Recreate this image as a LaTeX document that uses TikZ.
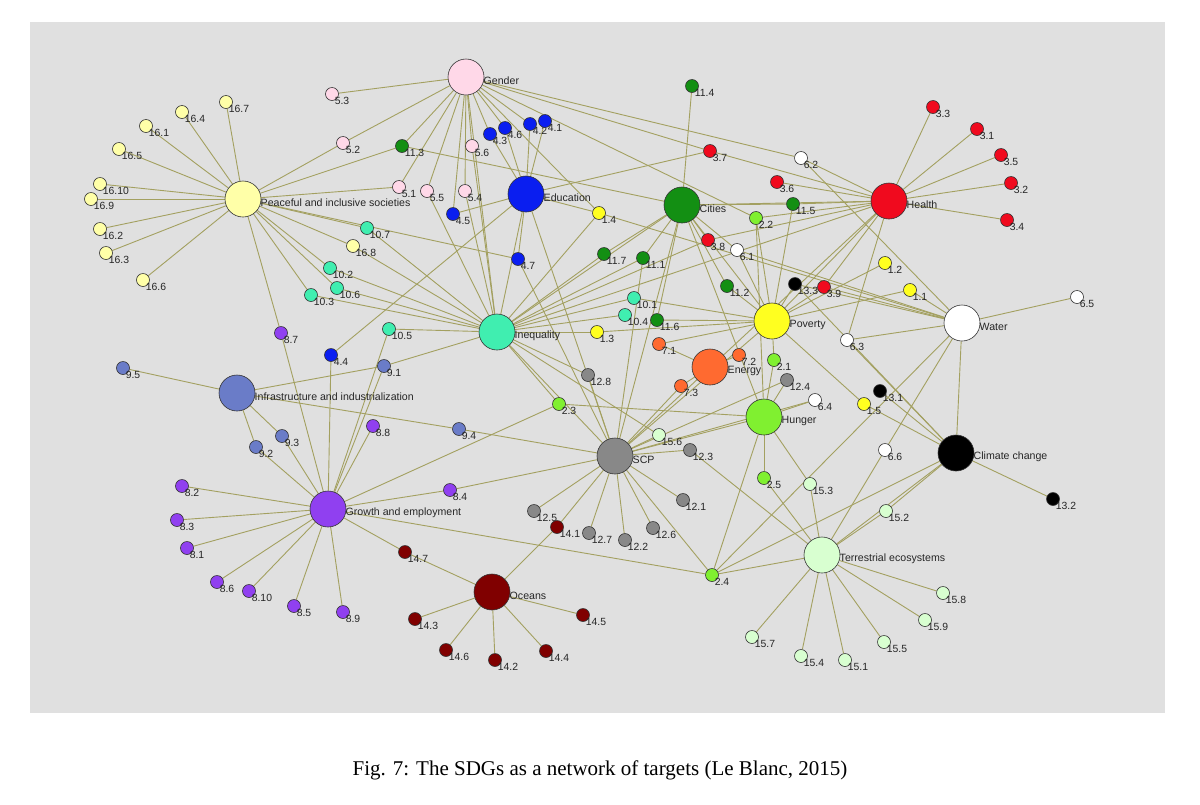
\documentclass[tikz,border=0pt]{standalone}
\usepackage{fontspec}
\setmainfont{Liberation Serif}
\newfontfamily\lblfont{Liberation Sans}
\usetikzlibrary{backgrounds}
\definecolor{bgc}{HTML}{E0E0E0}
\definecolor{edg}{HTML}{A3A060}
\definecolor{cpink}{HTML}{FFD8E8}
\definecolor{cblue}{HTML}{0A1EF0}
\definecolor{cgreen}{HTML}{138F13}
\definecolor{cred}{HTML}{F00A1E}
\definecolor{cteal}{HTML}{40EEB0}
\definecolor{cyel}{HTML}{FFFF20}
\definecolor{cpy}{HTML}{FFFFA8}
\definecolor{corg}{HTML}{FF6A30}
\definecolor{clime}{HTML}{80F030}
\definecolor{cgray}{HTML}{888888}
\definecolor{cslate}{HTML}{6A7CC8}
\definecolor{cpur}{HTML}{9040F0}
\definecolor{cdred}{HTML}{800000}
\definecolor{cpg}{HTML}{D8FFD0}
\tikzset{
 tgt/.style={circle,draw=black!80,line width=0.3pt,minimum size=6.5pt,inner sep=0pt},
 hub/.style={circle,draw=black!80,line width=0.3pt,minimum size=18pt,inner sep=0pt},
 lbl/.style={anchor=north west,inner sep=0pt,xshift=-1.2pt,yshift=1pt,font=\lblfont\fontsize{5.2}{6}\selectfont,text=black!85},
 hlbl/.style={anchor=west,inner sep=0pt,xshift=-0.5pt,yshift=-1.8pt,font=\lblfont\fontsize{5.3}{6}\selectfont,text=black!85},
 link/.style={edg,line width=0.45pt}
}
\newcommand\tg[5]{\node[tgt,fill=#4] (#1) at (#2,#3) {}; \node[lbl] at (#1.south east) {#5};}
\newcommand\hb[5]{\node[hub,fill=#4] (#1) at (#2,#3) {}; \node[hlbl] at (#1.east) {#5};}
\begin{document}
\begin{tikzpicture}[x=0.5pt,y=-0.5pt]
\useasboundingbox (0,0) rectangle (1200,804);
% hubs
\hb{gen}{466}{77}{cpink}{Gender}
\hb{pea}{243}{199}{cpy}{Peaceful and inclusive societies}
\hb{edu}{526}{194}{cblue}{Education}
\hb{cit}{682}{205}{cgreen}{Cities}
\hb{hea}{889}{201}{cred}{Health}
\hb{ine}{497}{332}{cteal}{Inequality}
\hb{pov}{772}{321}{cyel}{Poverty}
\hb{wat}{962}{323}{white}{Water}
\hb{inf}{237}{393}{cslate}{Infrastructure and industrialization}
\hb{ene}{710}{367}{corg}{Energy}
\hb{hun}{764}{417}{clime}{Hunger}
\hb{scp}{615}{456}{cgray}{SCP}
\hb{cli}{956}{453}{black}{Climate change}
\hb{gro}{328}{509}{cpur}{Growth and employment}
\hb{oce}{492}{592}{cdred}{Oceans}
\hb{ter}{822}{555}{cpg}{Terrestrial ecosystems}
% gender
\tg{n5-3}{332}{94}{cpink}{5.3}
\tg{n5-2}{343}{143}{cpink}{5.2}
\tg{n5-1}{399}{187}{cpink}{5.1}
\tg{n5-5}{427}{191}{cpink}{5.5}
\tg{n5-4}{465}{191}{cpink}{5.4}
\tg{n5-6}{472}{146}{cpink}{5.6}
% education
\tg{n4-3}{490}{134}{cblue}{4.3}
\tg{n4-6}{505}{128}{cblue}{4.6}
\tg{n4-2}{530}{124}{cblue}{4.2}
\tg{n4-1}{545}{121}{cblue}{4.1}
\tg{n4-5}{453}{214}{cblue}{4.5}
\tg{n4-7}{518}{259}{cblue}{4.7}
\tg{n4-4}{331}{355}{cblue}{4.4}
% cities
\tg{n11-4}{692}{86}{cgreen}{11.4}
\tg{n11-3}{402}{146}{cgreen}{11.3}
\tg{n11-5}{793}{204}{cgreen}{11.5}
\tg{n11-7}{604}{254}{cgreen}{11.7}
\tg{n11-1}{643}{258}{cgreen}{11.1}
\tg{n11-2}{727}{286}{cgreen}{11.2}
\tg{n11-6}{657}{320}{cgreen}{11.6}
% health
\tg{n3-3}{933}{107}{cred}{3.3}
\tg{n3-1}{977}{129}{cred}{3.1}
\tg{n3-5}{1001}{155}{cred}{3.5}
\tg{n3-2}{1011}{183}{cred}{3.2}
\tg{n3-4}{1007}{220}{cred}{3.4}
\tg{n3-7}{710}{151}{cred}{3.7}
\tg{n3-6}{777}{182}{cred}{3.6}
\tg{n3-8}{708}{240}{cred}{3.8}
\tg{n3-9}{824}{287}{cred}{3.9}
% water
\tg{n6-2}{801}{158}{white}{6.2}
\tg{n6-1}{737}{250}{white}{6.1}
\tg{n6-3}{847}{340}{white}{6.3}
\tg{n6-4}{815}{400}{white}{6.4}
\tg{n6-5}{1077}{297}{white}{6.5}
\tg{n6-6}{885}{450}{white}{6.6}
% poverty
\tg{n1-4}{599}{213}{cyel}{1.4}
\tg{n1-3}{597}{332}{cyel}{1.3}
\tg{n1-2}{885}{263}{cyel}{1.2}
\tg{n1-1}{910}{290}{cyel}{1.1}
\tg{n1-5}{864}{404}{cyel}{1.5}
% climate
\tg{n13-3}{795}{284}{black}{13.3}
\tg{n13-1}{880}{391}{black}{13.1}
\tg{n13-2}{1053}{499}{black}{13.2}
% inequality
\tg{n10-7}{367}{228}{cteal}{10.7}
\tg{n10-2}{330}{268}{cteal}{10.2}
\tg{n10-6}{337}{288}{cteal}{10.6}
\tg{n10-3}{311}{295}{cteal}{10.3}
\tg{n10-5}{389}{329}{cteal}{10.5}
\tg{n10-1}{634}{298}{cteal}{10.1}
\tg{n10-4}{625}{315}{cteal}{10.4}
% peaceful
\tg{n16-7}{226}{102}{cpy}{16.7}
\tg{n16-4}{182}{112}{cpy}{16.4}
\tg{n16-1}{146}{126}{cpy}{16.1}
\tg{n16-5}{119}{149}{cpy}{16.5}
\tg{n16-10}{100}{184}{cpy}{16.10}
\tg{n16-9}{91}{199}{cpy}{16.9}
\tg{n16-2}{100}{229}{cpy}{16.2}
\tg{n16-3}{106}{253}{cpy}{16.3}
\tg{n16-6}{143}{280}{cpy}{16.6}
\tg{n16-8}{353}{246}{cpy}{16.8}
% energy
\tg{n7-1}{659}{344}{corg}{7.1}
\tg{n7-2}{739}{355}{corg}{7.2}
\tg{n7-3}{681}{386}{corg}{7.3}
% hunger
\tg{n2-2}{756}{218}{clime}{2.2}
\tg{n2-1}{774}{360}{clime}{2.1}
\tg{n2-3}{559}{404}{clime}{2.3}
\tg{n2-5}{764}{478}{clime}{2.5}
\tg{n2-4}{712}{575}{clime}{2.4}
% scp
\tg{n12-8}{588}{375}{cgray}{12.8}
\tg{n12-4}{787}{380}{cgray}{12.4}
\tg{n12-3}{690}{450}{cgray}{12.3}
\tg{n12-1}{683}{500}{cgray}{12.1}
\tg{n12-5}{534}{511}{cgray}{12.5}
\tg{n12-7}{589}{533}{cgray}{12.7}
\tg{n12-2}{625}{540}{cgray}{12.2}
\tg{n12-6}{653}{528}{cgray}{12.6}
% infrastructure
\tg{n9-5}{123}{368}{cslate}{9.5}
\tg{n9-1}{384}{366}{cslate}{9.1}
\tg{n9-3}{282}{436}{cslate}{9.3}
\tg{n9-2}{256}{447}{cslate}{9.2}
\tg{n9-4}{459}{429}{cslate}{9.4}
% growth
\tg{n8-7}{281}{333}{cpur}{8.7}
\tg{n8-8}{373}{426}{cpur}{8.8}
\tg{n8-2}{182}{486}{cpur}{8.2}
\tg{n8-3}{177}{520}{cpur}{8.3}
\tg{n8-1}{187}{548}{cpur}{8.1}
\tg{n8-6}{217}{582}{cpur}{8.6}
\tg{n8-10}{249}{591}{cpur}{8.10}
\tg{n8-5}{294}{606}{cpur}{8.5}
\tg{n8-9}{343}{612}{cpur}{8.9}
\tg{n8-4}{450}{490}{cpur}{8.4}
% oceans
\tg{n14-7}{405}{552}{cdred}{14.7}
\tg{n14-1}{557}{527}{cdred}{14.1}
\tg{n14-3}{415}{619}{cdred}{14.3}
\tg{n14-6}{446}{650}{cdred}{14.6}
\tg{n14-2}{495}{660}{cdred}{14.2}
\tg{n14-4}{546}{651}{cdred}{14.4}
\tg{n14-5}{583}{615}{cdred}{14.5}
% terrestrial
\tg{n15-6}{659}{435}{cpg}{15.6}
\tg{n15-3}{810}{484}{cpg}{15.3}
\tg{n15-2}{886}{511}{cpg}{15.2}
\tg{n15-8}{943}{593}{cpg}{15.8}
\tg{n15-9}{925}{620}{cpg}{15.9}
\tg{n15-5}{884}{642}{cpg}{15.5}
\tg{n15-1}{845}{660}{cpg}{15.1}
\tg{n15-4}{801}{656}{cpg}{15.4}
\tg{n15-7}{752}{637}{cpg}{15.7}
\node[font=\fontsize{10.5}{12}\selectfont] (cap) at (600,770) {Fig. 7: The SDGs as a network of targets (Le Blanc, 2015)};
\begin{scope}[on background layer]
\fill[white] (0,0) rectangle (1200,804);
\fill[bgc] (30,22) rectangle (1165,713);
\foreach \a/\b in {
 gen/n5-3,gen/n5-2,gen/n5-1,gen/n5-5,gen/n5-4,gen/n5-6,gen/n4-3,gen/n4-6,gen/n4-2,gen/n4-5,gen/n3-7,gen/n6-2,gen/n11-3,gen/n2-2,gen/ine,gen/n1-4,
 pea/n16-7,pea/n16-4,pea/n16-1,pea/n16-5,pea/n16-10,pea/n16-9,pea/n16-2,pea/n16-3,pea/n16-6,pea/n16-8,pea/n5-2,pea/n11-3,pea/n5-1,pea/n10-7,pea/n10-2,pea/n10-6,pea/n10-3,pea/n8-7,pea/n4-7,
 edu/n4-1,edu/n4-2,edu/n4-3,edu/n4-6,edu/n4-5,edu/n4-7,edu/n4-4,edu/n3-7,edu/ine,edu/scp,edu/n1-4,
 cit/n11-4,cit/n11-3,cit/n11-5,cit/n11-7,cit/n11-1,cit/n11-2,cit/n11-6,cit/scp,cit/ine,cit/hun,cit/pov,cit/hea,cit/n3-8,cit/n6-1,
 hea/n3-3,hea/n3-1,hea/n3-5,hea/n3-2,hea/n3-4,hea/n3-6,hea/n3-8,hea/n3-9,hea/n3-7,hea/n11-5,hea/ine,hea/pov,hea/n6-3,hea/scp,hea/n6-2,hea/n2-2,
 ine/n10-1,ine/n10-4,ine/n10-5,ine/n10-2,ine/n10-6,ine/n10-3,ine/n10-7,ine/n16-8,ine/n5-5,ine/n5-4,ine/n5-6,ine/n1-3,ine/n9-1,ine/n2-3,ine/n11-7,ine/n11-1,ine/n1-4,ine/n3-8,ine/n12-8,ine/scp,ine/n15-6,
 pov/n1-3,pov/n1-2,pov/n1-1,pov/n1-5,pov/n13-3,pov/n3-9,pov/n11-2,pov/n2-1,pov/n6-1,pov/n10-1,pov/n11-6,pov/n7-1,pov/scp,pov/n11-5,pov/n2-2,
 wat/n6-5,wat/n6-3,wat/n6-1,wat/n6-6,wat/n1-1,wat/cli,wat/n3-9,wat/n13-3,wat/n1-4,wat/n6-2,wat/n2-4,
 cli/n13-1,cli/n13-2,cli/n13-3,cli/n1-5,cli/ter,cli/n2-4,cli/n6-3,cli/n15-2,
 ene/n7-1,ene/n7-2,ene/n7-3,
 hun/n2-1,hun/n2-3,hun/n2-5,hun/n2-4,hun/n15-3,hun/n12-4,hun/n6-4,hun/scp,hun/n2-2,
 scp/n12-8,scp/n12-4,scp/n12-3,scp/n12-1,scp/n12-5,scp/n12-7,scp/n12-2,scp/n12-6,scp/n15-6,scp/n2-4,scp/n14-1,scp/n9-4,scp/n8-4,scp/n7-3,scp/n6-4,scp/n11-1,scp/n4-7,
 ter/n15-3,ter/n15-2,ter/n15-8,ter/n15-9,ter/n15-5,ter/n15-1,ter/n15-4,ter/n15-7,ter/n2-5,ter/n2-4,ter/n12-3,ter/n6-6,
 inf/n9-5,inf/n9-1,inf/n9-3,inf/n9-2,inf/n9-4,
 gro/n8-7,gro/n8-8,gro/n8-2,gro/n8-3,gro/n8-1,gro/n8-6,gro/n8-10,gro/n8-5,gro/n8-9,gro/n8-4,gro/n9-2,gro/n9-3,gro/n4-4,gro/n9-1,gro/n2-3,gro/n14-7,gro/n2-4,gro/n10-5,
 oce/n14-7,oce/n14-1,oce/n14-3,oce/n14-6,oce/n14-2,oce/n14-4,oce/n14-5}
 \draw[link] (\a) -- (\b);
\end{scope}
\end{tikzpicture}
\end{document}
